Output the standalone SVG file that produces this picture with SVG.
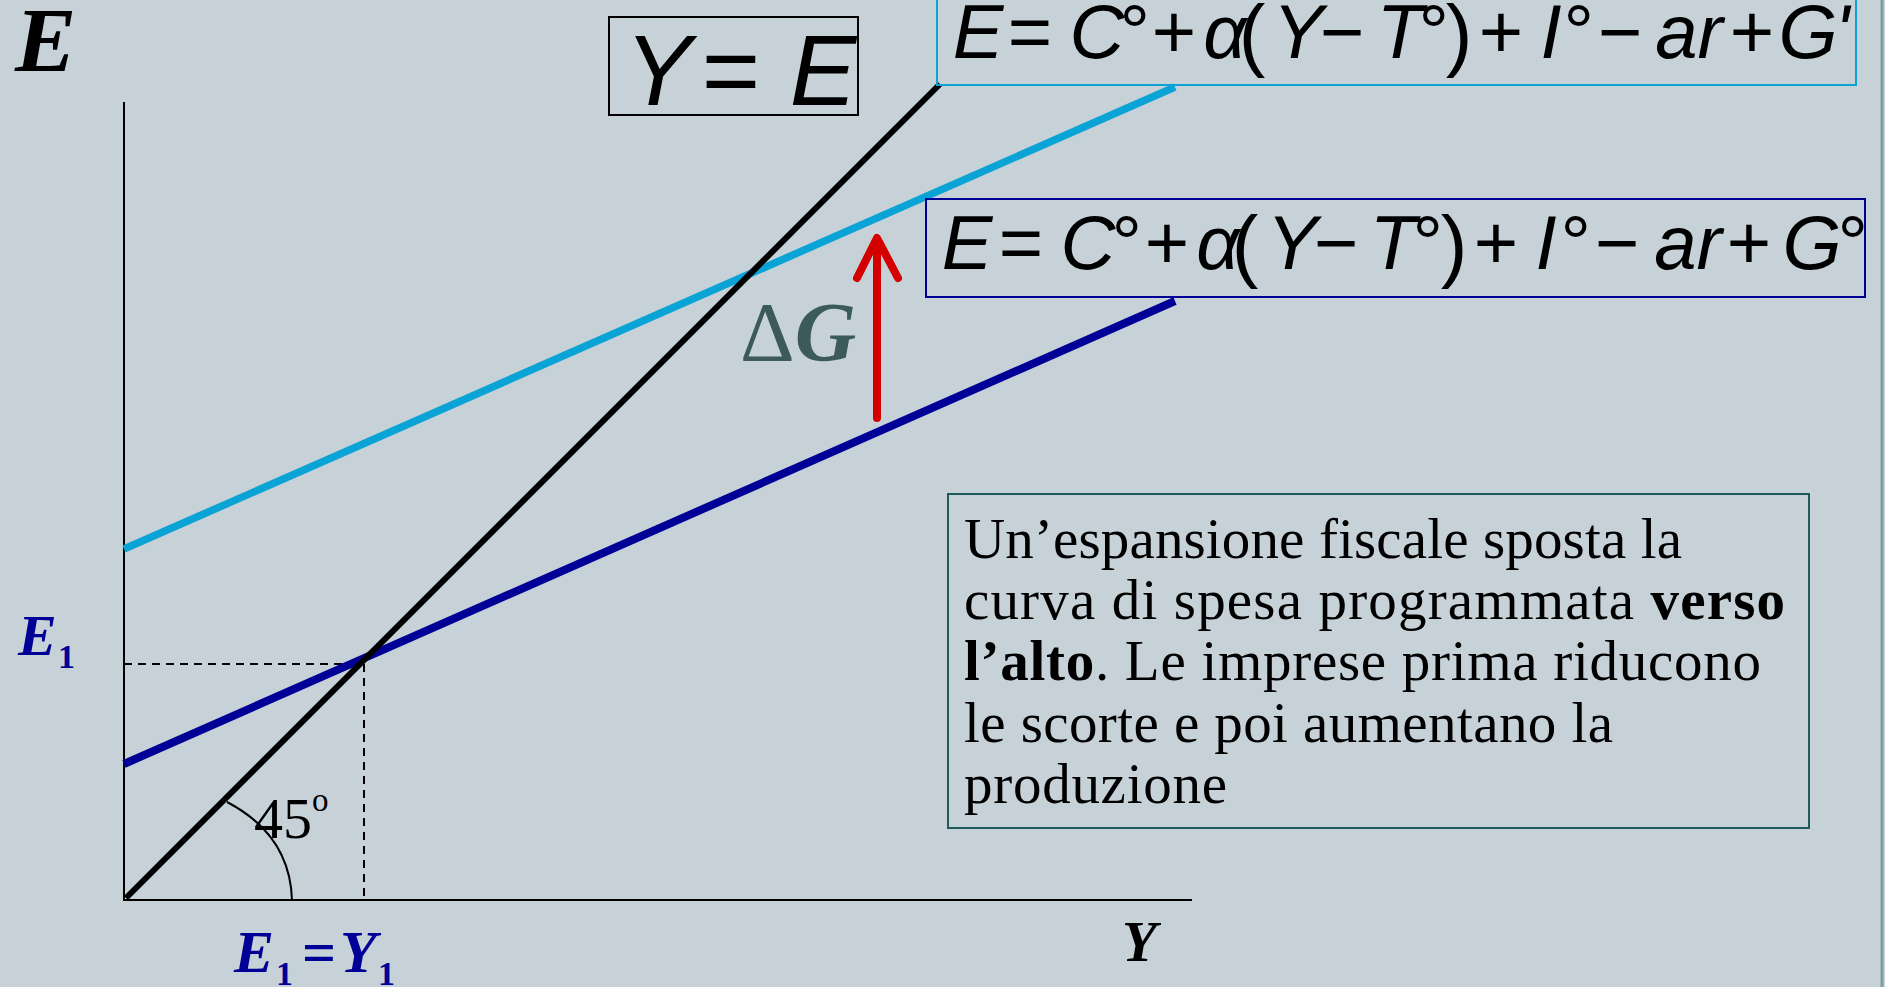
<svg xmlns="http://www.w3.org/2000/svg" width="1885" height="987" viewBox="0 0 1885 987">
<style>
.eq{font-family:"Liberation Sans Narrow","Liberation Sans",Arial,sans-serif;font-style:italic;font-size:76px;fill:#000;text-anchor:middle}
.big{font-size:100px}
.up{font-style:normal}
.par{font-style:normal;font-size:80px}
.lbl{font-family:"Liberation Serif","Times New Roman",serif;font-weight:bold;font-style:italic}
.body{font-family:"Liberation Serif","Times New Roman",serif;font-size:57px;fill:#000}
.ax{stroke:#000;stroke-width:2;fill:none}
.dash{stroke:#000;stroke-width:2;stroke-dasharray:8 6;fill:none}
</style>
<rect width="1885" height="987" fill="#c6d2d8"/>
<line x1="1882" y1="0" x2="1882" y2="987" stroke="#7e9d9e" stroke-width="3"/>

<g id="axes">
<line class="ax" x1="124" y1="102" x2="124" y2="900"/>
<line class="ax" x1="123" y1="900" x2="1192" y2="900"/>
<path class="ax" d="M227,802 Q290,835 292,900" stroke-width="1.8"/>
</g>

<g id="connectors">
<line class="dash" x1="124" y1="664" x2="364" y2="664"/>
<line class="dash" x1="364" y1="664" x2="364" y2="900"/>
<line x1="124" y1="549" x2="1175" y2="87" stroke="#0aa3d6" stroke-width="7.5"/>
<line x1="124" y1="764" x2="1175" y2="301" stroke="#000096" stroke-width="8"/>
<line x1="126" y1="898" x2="940" y2="84" stroke="#000" stroke-width="6"/>
<g stroke="#d40000" stroke-width="8" stroke-linecap="round" stroke-linejoin="round" fill="none">
<line x1="877" y1="418" x2="877" y2="242"/>
<polyline points="857,278 877,238 898,278"/>
</g>
</g>

<g id="label-E-axis"><text class="lbl" x="15" y="71" font-size="92" fill="#000">E</text></g>
<g id="label-Y-axis"><text class="lbl" x="1122" y="961" font-size="57" fill="#000">Y</text></g>
<g id="label-E1"><text class="lbl" x="18" y="655" font-size="58" fill="#000096">E<tspan font-style="normal" font-size="34" x="58" dy="13">1</tspan></text></g>
<g id="label-E1Y1"><text class="lbl" x="234" y="972" font-size="60" fill="#000096">E<tspan font-style="normal" font-size="34" x="276" dy="13">1</tspan><tspan font-style="normal" x="302" dy="-13">=</tspan><tspan x="340">Y</tspan><tspan font-style="normal" font-size="34" x="378" dy="13">1</tspan></text></g>
<g id="label-45"><text x="254" y="838" font-family="Liberation Serif,'Times New Roman',serif" font-size="58" fill="#000">45<tspan font-size="33" dy="-27">o</tspan></text></g>
<g id="label-deltaG"><text x="740" y="361" font-family="Liberation Serif,'Times New Roman',serif" font-size="85" fill="#3d5a5a">Δ<tspan font-weight="bold" font-style="italic">G</tspan></text></g>

<g id="node-YE">
<rect x="609" y="17" width="249" height="98" fill="none" stroke="#000" stroke-width="2"/>
<text class="eq big" y="105"><tspan x="658">Y</tspan><tspan class="up" x="731">=</tspan><tspan x="823">E</tspan></text>
</g>

<g id="node-eq-new">
<rect x="937" y="-5" width="919" height="90" fill="none" stroke="#0aa3d6" stroke-width="2"/>
<text class="eq" y="58"><tspan x="978">E</tspan><tspan class="up" x="1030">=</tspan><tspan x="1097">C</tspan><tspan x="1132">°</tspan><tspan class="up" x="1174">+</tspan><tspan x="1225">α</tspan><tspan class="par" x="1252" dy="3">(</tspan><tspan x="1298" dy="-3">Y</tspan><tspan class="up" x="1342">−</tspan><tspan x="1400">T</tspan><tspan x="1431">°</tspan><tspan class="par" x="1459" dy="3">)</tspan><tspan class="up" x="1501" dy="-3">+</tspan><tspan x="1551">I</tspan><tspan x="1576">°</tspan><tspan class="up" x="1620">−</tspan><tspan x="1689">ar</tspan><tspan class="up" x="1752">+</tspan><tspan x="1808">G</tspan><tspan x="1842">'</tspan></text>
</g>

<g id="node-eq-old">
<rect x="926" y="199" width="939" height="98" fill="none" stroke="#000096" stroke-width="2"/>
<text class="eq" y="269"><tspan x="967">E</tspan><tspan class="up" x="1021">=</tspan><tspan x="1088">C</tspan><tspan x="1124">°</tspan><tspan class="up" x="1167">+</tspan><tspan x="1218">α</tspan><tspan class="par" x="1245" dy="3">(</tspan><tspan x="1292" dy="-3">Y</tspan><tspan class="up" x="1336">−</tspan><tspan x="1393">T</tspan><tspan x="1425">°</tspan><tspan class="par" x="1454" dy="3">)</tspan><tspan class="up" x="1496" dy="-3">+</tspan><tspan x="1546">I</tspan><tspan x="1573">°</tspan><tspan class="up" x="1617">−</tspan><tspan x="1688">ar</tspan><tspan class="up" x="1749">+</tspan><tspan x="1812">G</tspan><tspan x="1850">°</tspan></text>
</g>

<g id="node-textbox">
<rect x="948" y="494" width="861" height="334" fill="none" stroke="#1f5a5a" stroke-width="2"/>
<text class="body" x="964" y="558" textLength="718">Un’espansione fiscale sposta la</text>
<text class="body" x="964" y="619" textLength="821">curva di spesa programmata <tspan font-weight="bold">verso</tspan></text>
<text class="body" x="964" y="680" textLength="797"><tspan font-weight="bold">l’alto</tspan>. Le imprese prima riducono</text>
<text class="body" x="964" y="742" textLength="649">le scorte e poi aumentano la</text>
<text class="body" x="964" y="803" textLength="263">produzione</text>
</g>
</svg>
